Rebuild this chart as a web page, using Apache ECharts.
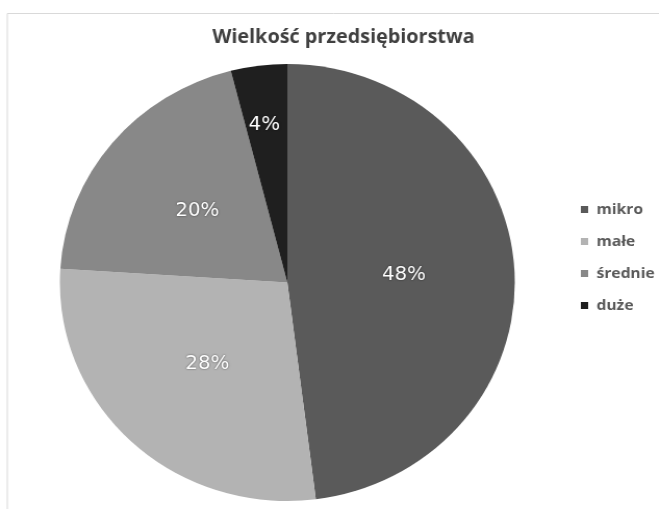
<!DOCTYPE html>
<html>
<head>
<meta charset="utf-8">
<script src="https://cdn.jsdelivr.net/npm/echarts@6/dist/echarts.min.js"></script>
<style>
  html, body { margin: 0; padding: 0; background: #ffffff; overflow: hidden; }
  /* the chart is drawn slightly narrower and widened, so the pie reads as a flat ellipse */
  #chart { width: 633px; height: 509px; transform: scaleX(1.041); transform-origin: 0 0; }
</style>
</head>
<body>
<div id="chart"></div>
<script>
// Company size breakdown
const chartTitle = 'Wielkość przedsiębiorstwa';
const categories = ['mikro', 'małe', 'średnie', 'duże'];
const shares = [48, 28, 20, 4];
const sliceColors = ['#5a5a5a', '#b3b3b3', '#888888', '#1f1f1f'];

const chart = echarts.init(document.getElementById('chart'), null, { renderer: 'canvas' });

const pieData = categories.map((name, i) => ({
  name: name,
  value: shares[i],
  itemStyle: { color: sliceColors[i] }
}));

chart.setOption({
  animation: false,
  backgroundColor: '#ffffff',
  graphic: [{
    type: 'rect',
    shape: { x: 7, y: 13.5, width: 700, height: 520 },
    style: { fill: 'none', stroke: '#d9d9d9', lineWidth: 1 },
    silent: true
  }],
  title: {
    text: chartTitle,
    left: 325,
    top: 23,
    textAlign: 'center',
    textStyle: {
      fontFamily: 'Open Sans',
      fontSize: 19,
      fontWeight: 'bold',
      color: '#404040'
    }
  },
  legend: {
    orient: 'vertical',
    left: 558,
    top: 202,
    padding: 0,
    itemWidth: 7,
    itemHeight: 7,
    itemGap: 17,
    icon: 'rect',
    textStyle: {
      fontFamily: 'Open Sans',
      fontSize: 15,
      fontWeight: 'bold',
      color: '#595959',
      padding: [0, 0, 0, 3]
    },
    data: categories
  },
  series: [{
    type: 'pie',
    center: [276, 282.5],
    radius: 218.5,
    startAngle: 90,
    clockwise: true,
    avoidLabelOverlap: false,
    label: {
      show: true,
      position: 'inside',
      formatter: '{c}%',
      fontFamily: 'DejaVu Sans',
      fontSize: 19,
      color: '#ffffff',
      textShadowColor: 'rgba(0,0,0,0.6)',
      textShadowBlur: 2
    },
    // the narrow slice keeps its label further out, where the wedge is wider
    labelLayout: function (params) {
      if (params.dataIndex === shares.length - 1) {
        return { dx: -8, dy: -46 };
      }
      return {};
    },
    labelLine: { show: false },
    emphasis: { disabled: true },
    data: pieData
  }]
});
</script>
</body>
</html>
